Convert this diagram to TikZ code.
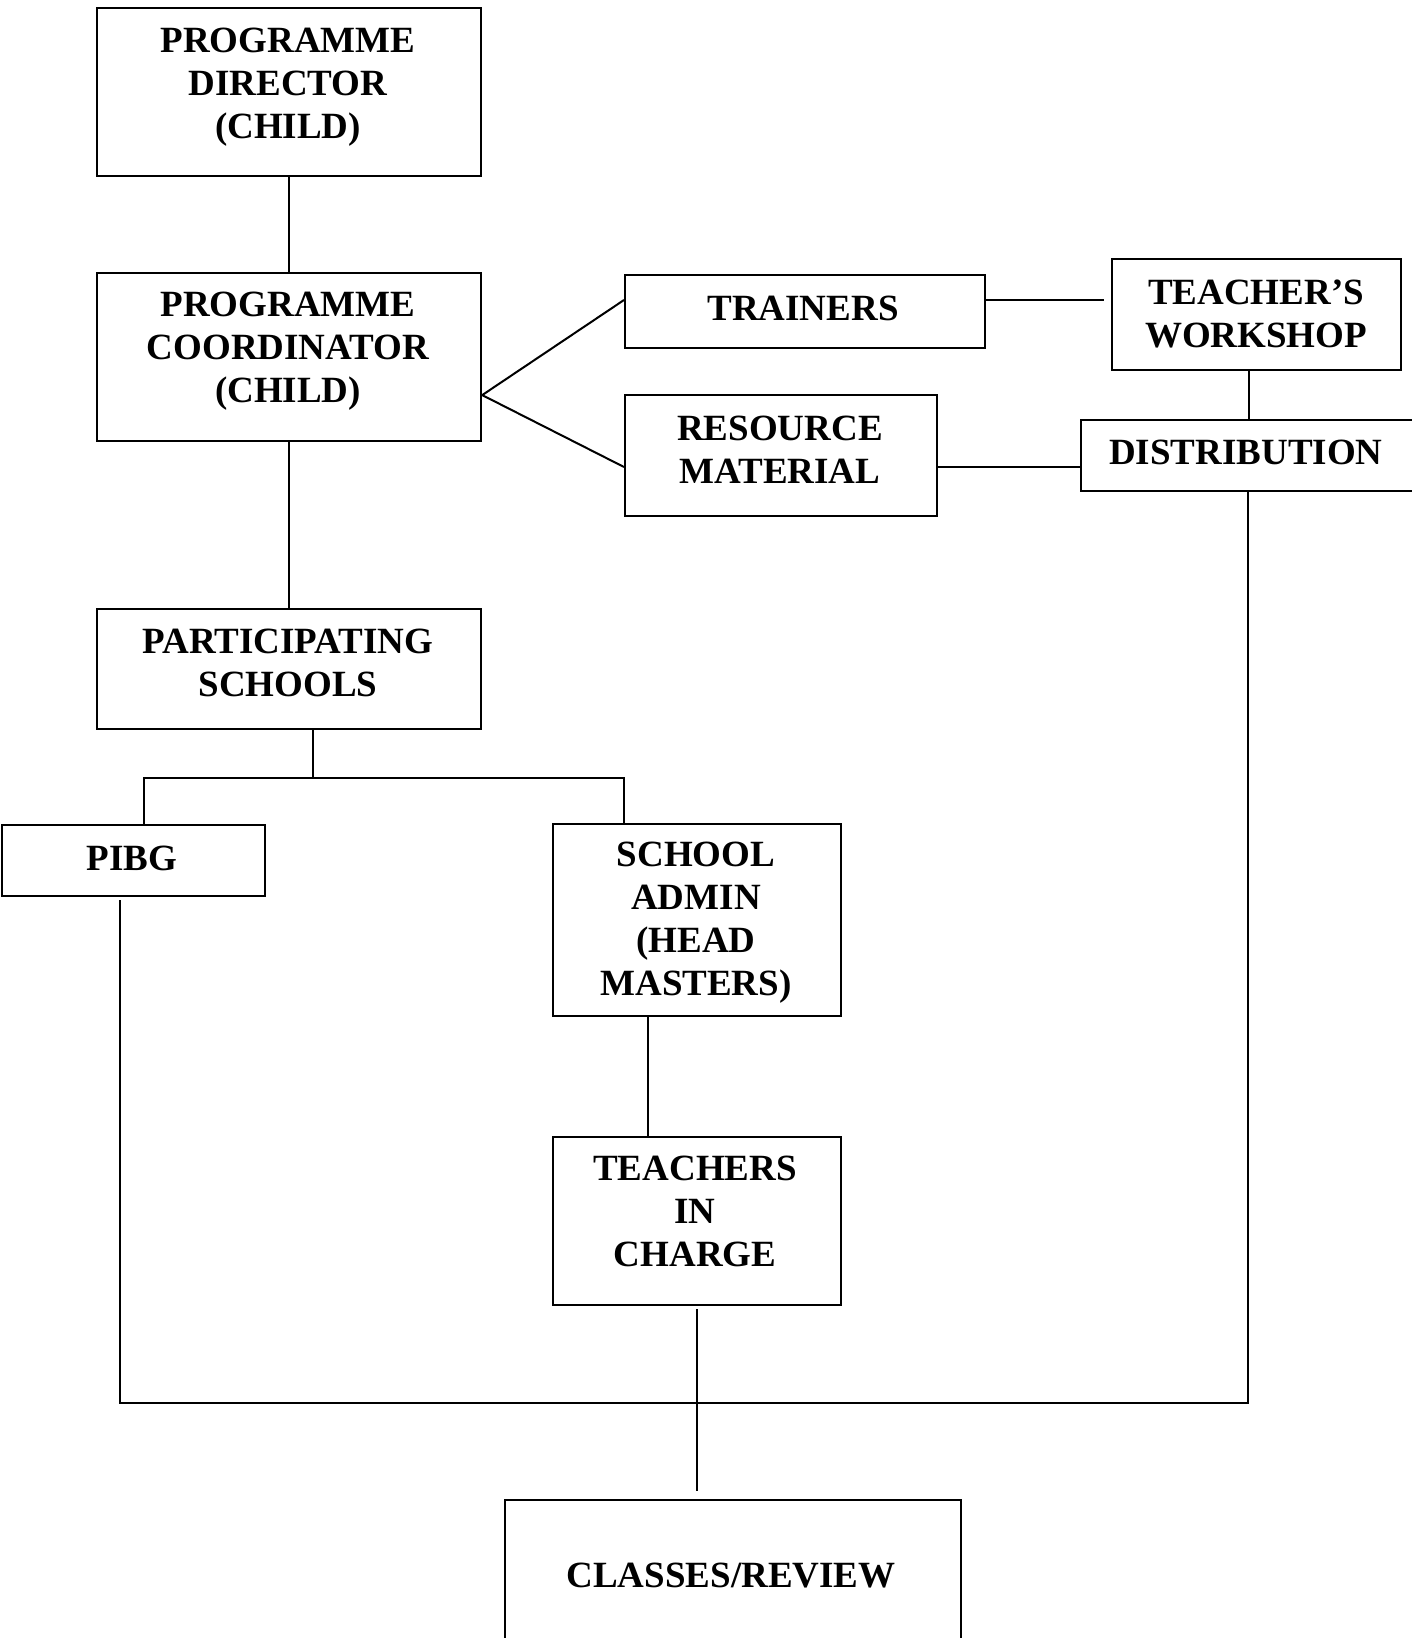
\documentclass[tikz,border=0pt]{standalone}
\usepackage{fontspec}
\setmainfont{Liberation Serif}
\begin{document}
\begin{tikzpicture}[x=1pt,y=-1pt,
  box/.style={draw,line width=2.2pt,inner sep=0pt,anchor=north west},
  lbl/.style={font=\bfseries\fontsize{37}{43}\selectfont,align=center,inner sep=0pt},
  conn/.style={line width=2pt}]
\useasboundingbox (0,0) rectangle (1411,1638);
\fill[white] (0,0) rectangle (1411,1638);
% boxes
\node[box,minimum width=384pt,minimum height=168pt] (dir) at (96,7) {};
\node[box,minimum width=384pt,minimum height=168pt] (coord) at (96,272) {};
\node[box,minimum width=360pt,minimum height=73pt] (trainers) at (624,274) {};
\node[box,minimum width=289pt,minimum height=111pt] (workshop) at (1111,258) {};
\node[box,minimum width=312pt,minimum height=121pt] (resource) at (624,394) {};
\node[box,minimum width=340pt,minimum height=71pt] (dist) at (1080,419) {};
\node[box,minimum width=384pt,minimum height=120pt] (ps) at (96,608) {};
\node[box,minimum width=263pt,minimum height=71pt] (pibg) at (1,824) {};
\node[box,minimum width=288pt,minimum height=192pt] (sa) at (552,823) {};
\node[box,minimum width=288pt,minimum height=168pt] (tic) at (552,1136) {};
\node[box,minimum width=456pt,minimum height=200pt] (classes) at (504,1499) {};
% labels
\node[lbl] (tdir) at (288,87) {PROGRAMME\\DIRECTOR\\(CHILD)};
\node[lbl] (tcoord) at (288,351) {PROGRAMME\\COORDINATOR\\(CHILD)};
\node[lbl] (ttrainers) at (803,308) {TRAINERS};
\node[lbl] (tworkshop) at (1256,314) {TEACHER’S\\WORKSHOP};
\node[lbl] (tresource) at (780,450) {RESOURCE\\MATERIAL};
\node[lbl] (tdist) at (1246,452) {DISTRIBUTION};
\node[lbl] (tps) at (288,663) {PARTICIPATING\\SCHOOLS};
\node[lbl] (tpibg) at (132,858) {PIBG};
\node[lbl] (tsa) at (696,923) {SCHOOL\\ADMIN\\(HEAD\\MASTERS)};
\node[lbl] (ttic) at (695,1211) {TEACHERS\\IN\\CHARGE};
\node[lbl] (tclasses) at (731,1576) {CLASSES/REVIEW};
% connectors
\coordinate (fan) at ([yshift=-38pt]coord.east);
\coordinate (twend) at (1104,300);
\coordinate (split) at ([xshift=24pt,yshift=-48pt]ps.south);
\coordinate (bend) at (1248,1403);
\coordinate (cend) at ([yshift=-185pt]tic.south);
\draw[conn] (dir.south) -- (coord.north);
\draw[conn] (fan) -- ([yshift=-26pt]trainers.north west);
\draw[conn] (fan) -- ([yshift=-73pt]resource.north west);
\draw[conn] ([yshift=-26pt]trainers.north east) -- (twend);
\draw[conn] ([xshift=-8pt]workshop.south) -- ([xshift=-8pt]workshop.south |- dist.north);
\draw[conn] ([yshift=-73pt]resource.north east) -- ([yshift=-73pt]resource.north east -| dist.west);
\draw[conn] (coord.south) -- (ps.north);
\draw[conn] ([xshift=24pt]ps.south) -- (split);
\draw[conn] ([xshift=143pt]pibg.north west) |- (split) -| ([xshift=72pt]sa.north west);
\draw[conn] ([xshift=119pt,yshift=-3pt]pibg.south west) |- (bend) -- (bend |- dist.south);
\draw[conn] ([xshift=96pt]sa.south west) -- ([xshift=96pt]tic.north west);
\draw[conn] ([yshift=-3pt]tic.south) -- (cend);
\end{tikzpicture}
\end{document}
